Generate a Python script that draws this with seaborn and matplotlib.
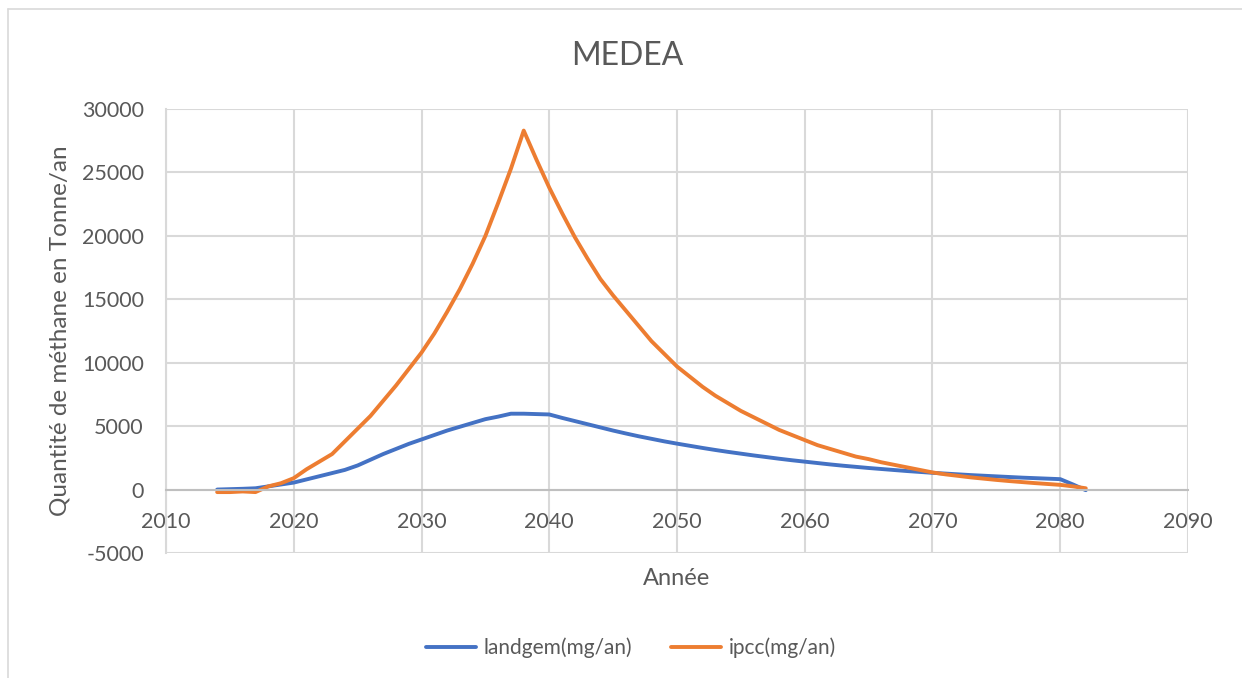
import matplotlib
matplotlib.use("Agg")
import matplotlib.pyplot as plt
import numpy as np
import pandas as pd
import seaborn as sns

# values (tonnes/an)
years = list(range(2014, 2083))
landgem = [0, 30, 60, 100, 250, 400, 550, 800, 1050, 1300,
           1550, 1900, 2350, 2800, 3200, 3600, 3950, 4300, 4650, 4950,
           5250, 5550, 5750, 5980, 5980, 5950, 5920, 5650, 5400, 5150,
           4900, 4650, 4420, 4200, 4000, 3800, 3620, 3450, 3280, 3120,
           2970, 2830, 2690, 2560, 2430, 2310, 2200, 2090, 1980, 1880,
           1790, 1700, 1620, 1540, 1460, 1390, 1320, 1260, 1200, 1140,
           1090, 1040, 990, 940, 900, 860, 820, 400, -50]
ipcc = [-200, -200, -150, -200, 250, 500, 900, 1600, 2200, 2800,
        3800, 4800, 5800, 7000, 8200, 9500, 10800, 12300, 14000, 15800,
        17800, 20000, 22600, 25300, 28300, 26000, 23800, 21800, 19900, 18200,
        16600, 15300, 14100, 12900, 11700, 10700, 9700, 8900, 8100, 7400,
        6800, 6200, 5700, 5200, 4700, 4300, 3900, 3500, 3200, 2900,
        2600, 2400, 2150, 1950, 1750, 1550, 1350, 1200, 1080, 960,
        860, 760, 670, 590, 510, 440, 370, 250, 100]
series_names = ["landgem(mg/an)", "ipcc(mg/an)"]
colors = ["#4472C4", "#ED7D31"]

df = pd.DataFrame({
    "Année": years * 2,
    "val": landgem + ipcc,
    "serie": [series_names[0]] * len(years) + [series_names[1]] * len(years),
})

sns.set_theme(style="white")
plt.rcParams["font.family"] = ["Lato", "DejaVu Sans"]
plt.rcParams["axes.unicode_minus"] = False
text_c = "#595959"
grid_c = "#d9d9d9"

fig = plt.figure(figsize=(12.42, 6.78), dpi=100)
ax = fig.add_axes([0.1337, 0.1844, 0.8228, 0.6548])

sns.lineplot(data=df, x="Année", y="val", hue="serie", palette=colors,
             linewidth=2.8, ax=ax, legend=False)

ax.set_xlim(2010, 2090)
ax.set_ylim(-5000, 30000)
ax.set_xticks(np.arange(2010, 2091, 10))
ax.set_yticks(np.arange(-5000, 30001, 5000))
ax.grid(True, color=grid_c, linewidth=1.5)
ax.set_axisbelow(True)

for s in ["top", "right"]:
    ax.spines[s].set_visible(False)
ax.spines["left"].set_color(grid_c)
ax.spines["left"].set_linewidth(1.5)
ax.spines["bottom"].set_position(("data", 0))
ax.spines["bottom"].set_color("#bfbfbf")
ax.spines["bottom"].set_linewidth(1.5)

ax.tick_params(axis="x", length=0, pad=16, labelsize=15.5, labelcolor=text_c)
ax.tick_params(axis="y", length=0, pad=16, labelsize=15.5, labelcolor=text_c)

ax.set_xlabel("")
ax.set_ylabel("Quantité de méthane en Tonne/an", fontsize=17.5, color=text_c, labelpad=8)
fig.text(0.545, 0.147, "Année", ha="center", va="center", fontsize=17, color=text_c)
fig.text(0.505, 0.917, "MEDEA", ha="center", va="center", fontsize=23, color=text_c)

handles = [plt.Line2D([], [], color=c, linewidth=2.8) for c in colors]
fig.legend(handles, series_names, loc="center", bbox_to_anchor=(0.508, 0.044),
           ncol=2, frameon=False, fontsize=15, labelcolor=text_c,
           handlelength=2.4, columnspacing=1.9, handletextpad=0.35)

# outer chart border (top and left edges visible in the reference)
fig.add_artist(plt.Line2D([0.0065, 0.0065], [0.0, 0.987], color=grid_c, linewidth=1.2,
                          transform=fig.transFigure))
fig.add_artist(plt.Line2D([0.0065, 1.0], [0.987, 0.987], color=grid_c, linewidth=1.2,
                          transform=fig.transFigure))

fig.savefig("out.png", dpi=100)
